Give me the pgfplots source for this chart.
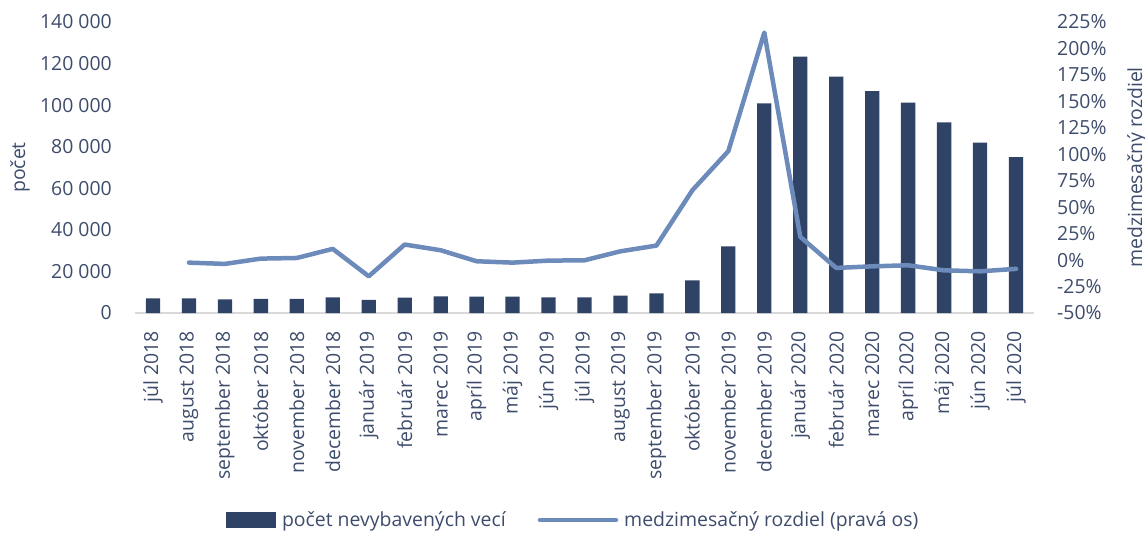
\documentclass[border=0pt]{standalone}
\usepackage{pgfplots}
\pgfplotsset{compat=1.18}
\usepackage{pgfplotstable}
\usepackage{fontspec}
\setmainfont{Open Sans}
\definecolor{barc}{HTML}{2F4366}
\definecolor{linec}{HTML}{6D8BBA}
\definecolor{txt}{HTML}{3E4C6C}
\definecolor{axc}{HTML}{D9D9D9}

\pgfplotstableread{
x bars
0 7000
1 7000
2 6600
3 6800
4 6800
5 7500
6 6300
7 7400
8 8000
9 7850
10 7850
11 7550
12 7550
13 8350
14 9450
15 15700
16 32000
17 100800
18 123300
19 113700
20 106800
21 101200
22 91700
23 82000
24 75000
}\bardata

\pgfplotstableread{
x pct
1 -2.4
2 -3.6
3 1.4
4 2.0
5 10.6
6 -15.3
7 14.7
8 9.3
9 -1.1
10 -2.4
11 -0.5
12 -0.2
13 8.3
14 13.7
15 66.0
16 103.0
17 215.0
18 22.0
19 -7.4
20 -5.9
21 -4.9
22 -9.7
23 -10.6
24 -8.3
}\pctdata

\newcommand{\fs}{\fontsize{19.5}{23}\selectfont}
\begin{document}
\begin{tikzpicture}[font=\fs, text=txt]
\pgfplotsset{
  base/.style={
    scale only axis, width=899bp, height=291bp,
    xmin=-0.5, xmax=24.5,
    tick style={draw=none},
    major tick length=0pt,
    scaled ticks=false,
    ticklabel style={font=\fs, text=txt},
    label style={font=\fs, text=txt},
  }
}
\begin{axis}[base,
  ymin=0, ymax=140000,
  axis y line=none,
  axis x line*=bottom,
  x axis line style={draw=axc, line width=1.5bp, -},
  xtick={0,...,24},
  xticklabels={júl 2018, august 2018, september 2018, október 2018, november 2018, december 2018, január 2019, február 2019, marec 2019, apríl 2019, máj 2019, jún 2019, júl 2019, august 2019, september 2019, október 2019, november 2019, december 2019, január 2020, február 2020, marec 2020, apríl 2020, máj 2020, jún 2020, júl 2020},
  xticklabel style={rotate=90, anchor=east, inner sep=0pt},
  xticklabel shift=18bp,
]
\addplot[ybar, bar width=14.3bp, fill=barc, draw=none] table[x=x, y=bars] {\bardata};
\coordinate (sw) at (rel axis cs:0,0);
\coordinate (ne) at (rel axis cs:1,1);
\end{axis}
\begin{axis}[base,
  ymin=0, ymax=140000,
  axis x line=none,
  axis y line*=left,
  y axis line style={draw=none},
  ytick={0,20000,...,140000},
  yticklabels={0,20 000,40 000,60 000,80 000,100 000,120 000,140 000},
  yticklabel style={inner sep=0pt, anchor=east},
  yticklabel shift=23bp,
  ylabel={počet},
  every axis y label/.style={at={(axis description cs:0,0.5)}, xshift=-115bp, rotate=90, anchor=center},
]
\end{axis}
\begin{axis}[base,
  ymin=-50, ymax=225,
  axis x line=none,
  axis y line*=right,
  y axis line style={draw=none},
  ytick={-50,-25,...,225},
  yticklabels={-50\%,-25\%,0\%,25\%,50\%,75\%,100\%,125\%,150\%,175\%,200\%,225\%},
  yticklabel style={inner sep=0pt, anchor=west},
  yticklabel shift=23bp,
  ylabel={medzimesačný rozdiel},
  every axis y label/.style={at={(axis description cs:1,0.5)}, xshift=103bp, rotate=90, anchor=center},
  legend style={at={(axis description cs:0.5,0)}, anchor=center, yshift=-207bp, xshift=-12bp,
    draw=none, fill=none, legend columns=2, font=\fs, text=txt,
    /tikz/every even column/.append style={column sep=30bp}},
  legend cell align=left,
]
\addlegendimage{legend image code/.code={\fill[barc] (0bp,-7.5bp) rectangle (49bp,7.5bp); \path (-1bp,0bp) (54bp,0bp);}}
\addlegendentry{počet nevybavených vecí}
\addplot[linec, line width=4.5bp, line join=round, line cap=round,
  legend image code/.code={\draw[linec, line width=4.5bp, line cap=round] (0bp,0bp) -- (76bp,0bp); \path (80bp,0bp);}]
  table[x=x, y=pct] {\pctdata};
\addlegendentry{medzimesačný rozdiel (pravá os)}
\end{axis}
\pgfresetboundingbox
\path ([xshift=-135bp, yshift=-220bp]sw) rectangle ([xshift=111bp, yshift=22bp]ne);
\end{tikzpicture}
\end{document}
